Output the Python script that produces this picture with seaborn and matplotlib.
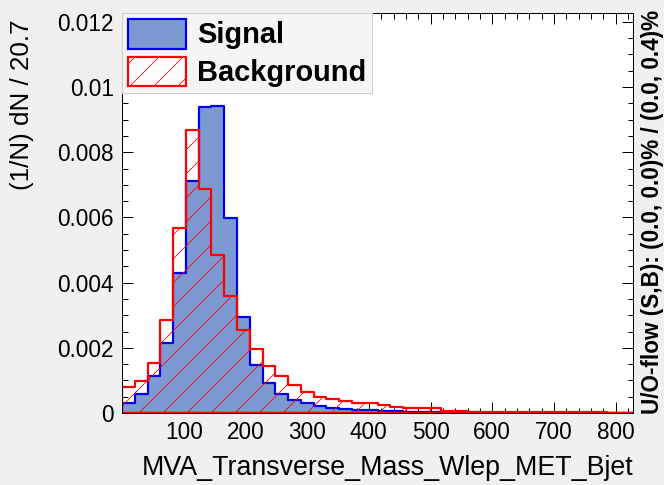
import numpy as np
import pandas as pd
import matplotlib
matplotlib.use("Agg")
import matplotlib.pyplot as plt
from matplotlib.patches import Patch
from matplotlib.ticker import MultipleLocator
import seaborn as sns

# ---- data ----
x_min = 0.0
bin_width = 20.7
n_bins = 40
signal = [0.00030, 0.00059, 0.00112, 0.00214, 0.00429, 0.00713, 0.00940, 0.00943,
          0.00597, 0.00294, 0.00148, 0.00091, 0.00059, 0.00041, 0.00030, 0.00020,
          0.00015, 0.00012, 0.00010, 0.00008, 0.00006, 0.00005, 0.00004, 0.00003,
          0.00003, 0.00002, 0.00002, 0.00002, 0.00001, 0.00001, 0.0, 0.0,
          0.0, 0.0, 0.0, 0.0, 0.0, 0.0, 0.0, 0.0]
background = [0.00080, 0.00097, 0.00153, 0.00286, 0.00567, 0.00869, 0.00687, 0.00486,
              0.00358, 0.00256, 0.00196, 0.00143, 0.00112, 0.00087, 0.00063, 0.00050,
              0.00042, 0.00036, 0.00032, 0.00030, 0.00025, 0.00017, 0.00014, 0.00014,
              0.00014, 0.00007, 0.00007, 0.00004, 0.00004, 0.00004, 0.00003, 0.00003,
              0.00003, 0.00003, 0.00003, 0.00003, 0.00003, 0.00002, 0.00001, 0.00001]
labels = ["Signal", "Background"]
x_label = "MVA_Transverse_Mass_Wlep_MET_Bjet"
y_label = "(1/N) dN / 20.7"
side_text = "U/O-flow (S,B): (0.0, 0.0)% / (0.0, 0.4)%"
y_max = 0.01227

edges = x_min + bin_width * np.arange(n_bins + 1)
centers = 0.5 * (edges[:-1] + edges[1:])
df = pd.DataFrame({"x": centers, "sig": signal, "bkg": background})

# ---- style ----
sns.set_theme(style="ticks")
plt.rcParams["font.family"] = ["Liberation Sans", "DejaVu Sans"]
plt.rcParams["text.color"] = "black"
plt.rcParams["axes.labelcolor"] = "black"
plt.rcParams["hatch.color"] = "#ff3030"
plt.rcParams["hatch.linewidth"] = 0.8

SIG_FILL = "#7d99d1"
SIG_LINE = "#0000ee"
BKG_LINE = "#ff0000"
BG = "#f0f0f0"

W, H = 664, 485
fig = plt.figure(figsize=(W / 72, H / 72), dpi=72, facecolor=BG)
L, R, T, B = 122, 633, 13, 413
ax = fig.add_axes([L / W, 1 - B / H, (R - L) / W, (B - T) / H])
ax.set_facecolor("white")

rng = (float(edges[0]), float(edges[-1]))
sns.histplot(data=df, x="x", weights="sig", bins=n_bins, binrange=rng, element="step",
             fill=True, color=SIG_FILL, facecolor=SIG_FILL, edgecolor=SIG_LINE,
             linewidth=2.2, alpha=1, ax=ax)
sns.histplot(data=df, x="x", weights="bkg", bins=n_bins, binrange=rng, element="step",
             fill=True, color=BKG_LINE, facecolor=(1, 1, 1, 0), edgecolor=BKG_LINE,
             hatch="/", linewidth=2.2, ax=ax)

ax.set_xlim(edges[0], edges[-1])
ax.set_ylim(0, y_max)

ax.xaxis.set_major_locator(MultipleLocator(100))
ax.xaxis.set_minor_locator(MultipleLocator(20))
ax.yaxis.set_major_locator(MultipleLocator(0.002))
ax.yaxis.set_minor_locator(MultipleLocator(0.0005))
ax.set_xticks([100, 200, 300, 400, 500, 600, 700, 800])
ax.set_yticks([0, 0.002, 0.004, 0.006, 0.008, 0.01, 0.012])
ax.set_yticklabels(["0", "0.002", "0.004", "0.006", "0.008", "0.01", "0.012"])
ax.tick_params(which="both", direction="in", top=True, right=True, colors="black",
               labelsize=22.5, width=1)
ax.tick_params(which="major", length=11, pad=8)
ax.tick_params(which="minor", length=5.5)
for s in ax.spines.values():
    s.set_color("black")
    s.set_linewidth(1)
    s.set_visible(True)

ax.set_xlabel(x_label, fontsize=26.8, loc="right", labelpad=11, color="black")
ax.set_ylabel(y_label, fontsize=26, loc="top", color="black")
ax.yaxis.set_label_coords(-0.172, 0.983)

fig.text(652 / W, 1 - 212 / H, side_text, rotation=90, fontsize=22.5,
         fontweight="bold", ha="center", va="center", color="black")

handles = [Patch(facecolor=SIG_FILL, edgecolor=SIG_LINE, linewidth=2.2),
           Patch(facecolor="white", edgecolor=BKG_LINE, hatch="/", linewidth=2.2)]
leg = ax.legend(handles, labels, loc="upper left", bbox_to_anchor=(0, 1),
                borderaxespad=0, prop={"weight": "bold", "size": 29},
                handlelength=2.0, handleheight=1.2, handletextpad=0.4,
                labelspacing=0.25, borderpad=0.2, frameon=True, fancybox=False,
                labelcolor="black")
leg.get_frame().set_facecolor("#f5f5f5")
leg.get_frame().set_edgecolor("#cfcfcf")
leg.get_frame().set_linewidth(1)
leg.get_frame().set_alpha(1)

fig.savefig("out.png", dpi=72, facecolor=BG)
